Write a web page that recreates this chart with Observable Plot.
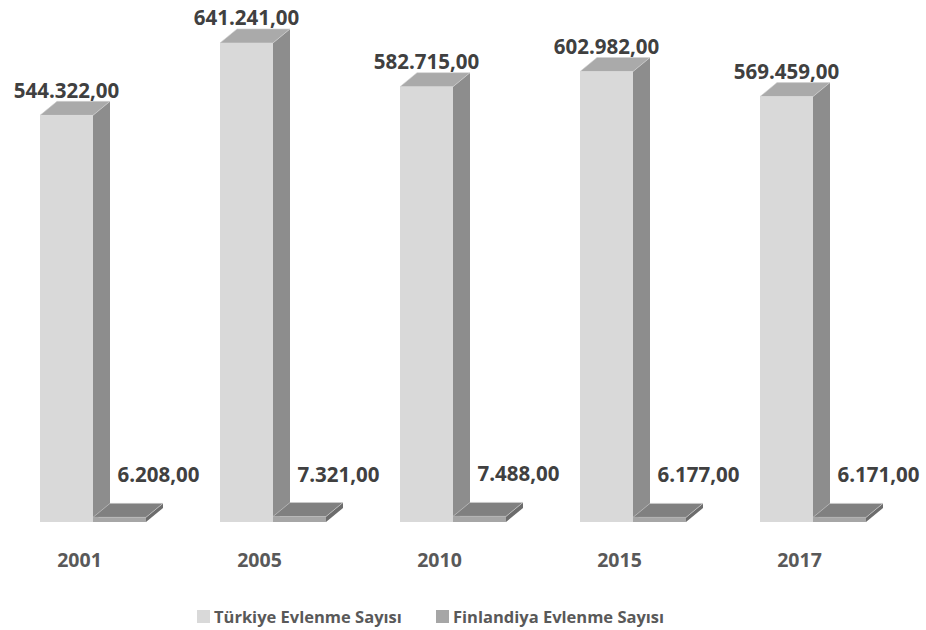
<!DOCTYPE html>
<html>
<head>
<meta charset="utf-8">
<script src="https://cdn.jsdelivr.net/npm/d3@7"></script>
<script src="https://cdn.jsdelivr.net/npm/@observablehq/plot@0.6"></script>
<style>
  body { margin: 0; background: #fff; font-family: "Open Sans", sans-serif; }
  #chart { width: 926px; }
  .legend { position: relative; height: 50px; width: 926px; }
  .legend .item { position: absolute; top: 25px; display: flex; align-items: center; font-weight: 700; font-size: 16.5px; color: #595959; white-space: nowrap; }
  .legend .sw { width: 13px; height: 13px; margin-right: 4px; }
</style>
</head>
<body>
<div id="chart"></div>
<script>
// ---- data ----
const years = ["2001", "2005", "2010", "2015", "2017"];
const seriesNames = ["Türkiye Evlenme Sayısı", "Finlandiya Evlenme Sayısı"];
const turkiye = [544322, 641241, 582715, 602982, 569459];
const finlandiya = [6208, 7321, 7488, 6177, 6171];

// ---- styles ----
const faceColors = {
  "Türkiye Evlenme Sayısı": {front: "#d9d9d9", top: "#aaaaaa", side: "#8d8d8d"},
  "Finlandiya Evlenme Sayısı": {front: "#a6a6a6", top: "#808080", side: "#6c6c6c"}
};
const depthX = 17, depthY = 14;

const rows = [];
years.forEach((y, i) => {
  rows.push({year: y, series: seriesNames[0], s: 0, value: turkiye[i]});
  rows.push({year: y, series: seriesNames[1], s: 1, value: finlandiya[i]});
});

const loc = d3.formatLocale({decimal: ",", thousands: ".", grouping: [3], currency: ["", ""]});
const fmt = loc.format(",.2f");

function bars3d(index, scales, values, dimensions, context) {
  const bw = typeof scales.x.bandwidth === "function" ? scales.x.bandwidth() : scales.scales.x.bandwidth;
  const half = bw / 2;
  const yb = scales.y(0);
  const g = d3.create("svg:g");
  for (const i of index) {
    const r = rows[i];
    const c = faceColors[r.series];
    const x0 = scales.x(r.year) + r.s * half;
    const x1 = x0 + half;
    const yt = scales.y(r.value);
    // side face
    g.append("path")
      .attr("d", `M${x1},${yt}L${x1 + depthX},${yt - depthY}L${x1 + depthX},${yb - depthY}L${x1},${yb}Z`)
      .attr("fill", c.side);
    // top face
    g.append("path")
      .attr("d", `M${x0},${yt}L${x1},${yt}L${x1 + depthX},${yt - depthY}L${x0 + depthX},${yt - depthY}Z`)
      .attr("fill", c.top)
      .attr("stroke", "#d0d0d0").attr("stroke-width", 0.6);
    // front face
    g.append("rect")
      .attr("x", x0).attr("y", yt)
      .attr("width", half).attr("height", yb - yt)
      .attr("fill", c.front);
  }
  return g.node();
}

const tRows = rows.filter(d => d.s === 0);
const fRows = rows.filter(d => d.s === 1);

const chart = Plot.plot({
  width: 926,
  height: 580,
  marginLeft: 38,
  marginRight: 59,
  marginTop: 14,
  marginBottom: 58,
  x: {type: "band", domain: years, paddingInner: 0.4136, paddingOuter: 0, axis: null},
  y: {domain: [0, 680000], axis: null},
  style: {fontFamily: "Open Sans", background: "#fff"},
  marks: [
    Plot.barY(rows, {x: "year", y: "value", render: bars3d}),
    Plot.text(tRows, {
      x: "year", y: "value", text: d => fmt(d.value),
      dx: -27, dy: -18, lineAnchor: "bottom",
      fontSize: 20.5, fontWeight: 700, fill: "#404040"
    }),
    Plot.text(fRows, {
      x: "year", y: "value", text: d => fmt(d.value),
      dx: 65, dy: -35.5, lineAnchor: "bottom",
      fontSize: 20.5, fontWeight: 700, fill: "#404040"
    }),
    Plot.text(years, {
      x: d => d, y: () => 0, text: d => d,
      dx: -14, dy: 44, lineAnchor: "bottom",
      fontSize: 19.5, fontWeight: 700, fill: "#595959"
    })
  ]
});
document.getElementById("chart").appendChild(chart);

// legend
const legend = d3.select("body").append("div").attr("class", "legend");
const legendX = [197, 436];
seriesNames.forEach((name, i) => {
  const item = legend.append("div").attr("class", "item").style("left", legendX[i] + "px");
  item.append("div").attr("class", "sw").style("background", faceColors[name].front);
  item.append("span").text(name);
});
</script>
</body>
</html>
